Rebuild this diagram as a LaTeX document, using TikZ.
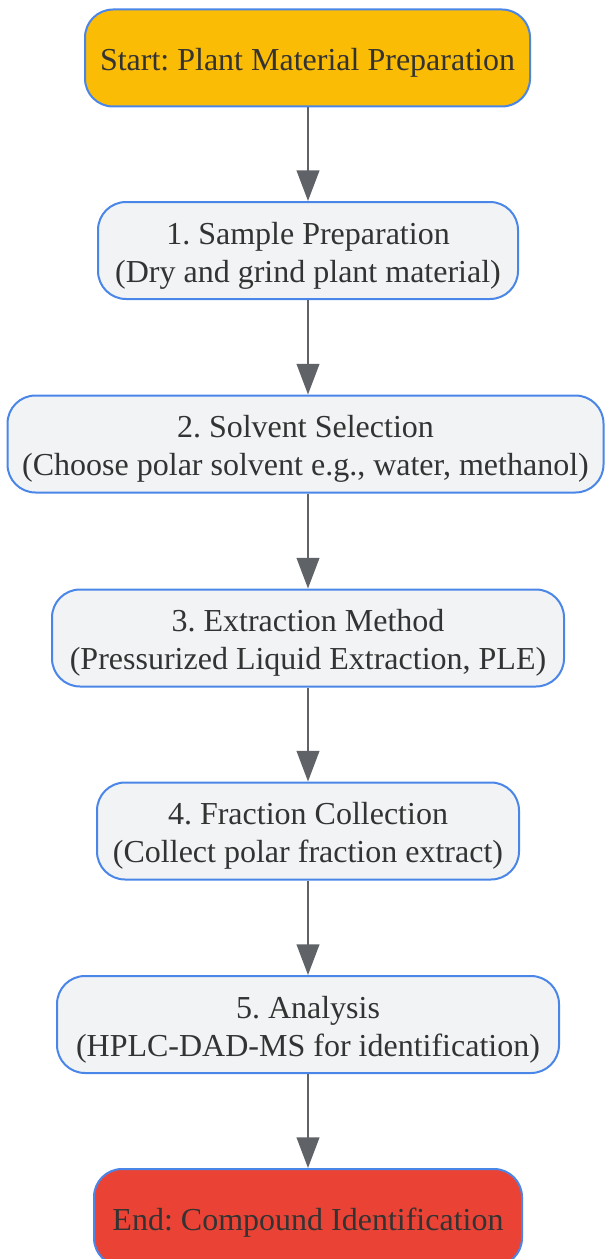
\documentclass[tikz,border=0pt]{standalone}
\usepackage{fontspec}
\setmainfont{Liberation Serif}
\usepackage{xcolor}
\usetikzlibrary{arrows.meta,positioning}

\definecolor{flowblue}{HTML}{4A86E8}
\definecolor{flowgray}{HTML}{5F6368}
\definecolor{flowtext}{HTML}{333333}
\definecolor{startfill}{HTML}{FBBC05}
\definecolor{endfill}{HTML}{EA4335}
\definecolor{stepfill}{HTML}{F1F3F4}

\begin{document}
\frenchspacing
\begin{tikzpicture}[x=0.75pt, y=-0.75pt,
    box/.style={draw=flowblue, line width=1.5pt, rounded corners=21pt, fill=stepfill,
        text=flowtext, align=center, minimum height=72.75pt, inner sep=0pt,
        font=\fontsize{24pt}{28.5pt}\selectfont, text height=52.5pt},
    oneline/.style={text height=24pt},
    flow/.style={draw=flowgray, line width=1.5pt, -{Triangle[length=23pt, width=17pt]}}]
            \useasboundingbox (0, 0) rectangle (604, 1259);

            \node (start)[box, oneline, fill=startfill, minimum width=333.75pt] at (307.5, 58) {Start: Plant Material Preparation};
            \node (S1)[box, minimum width=315pt] at (308, 250.5) {1. Sample Preparation \\ (Dry and grind plant material)};
            \node (S2)[box, minimum width=447pt] at (305.5, 444) {2. Solvent Selection \\ (Choose polar solvent e.g., water, methanol)};
            \node (S3)[box, minimum width=384pt] at (308, 638) {3. Extraction Method \\ (Pressurized Liquid Extraction, PLE)};
            \node (S4)[box, minimum width=316.5pt] at (308, 831) {4. Fraction Collection \\ (Collect polar fraction extract)};
            \node (S5)[box, minimum width=376.5pt] at (308, 1024.5) {5. Analysis \\ (HPLC-DAD-MS for identification)};
            \node (end)[box, oneline, fill=endfill, minimum width=321pt] at (308, 1217.5) {End: Compound Identification};
            \draw[flow] (start.south -| S1.north) -- (S1.north);
            \draw[flow] (S1) -- (S1 |- S2.north);
            \draw[flow] (S1 |- S2.south) -- (S3);
            \draw[flow] (S3) -- (S4);
            \draw[flow] (S4) -- (S5);
            \draw[flow] (S5) -- (end);
    \end{tikzpicture}
\end{document}
